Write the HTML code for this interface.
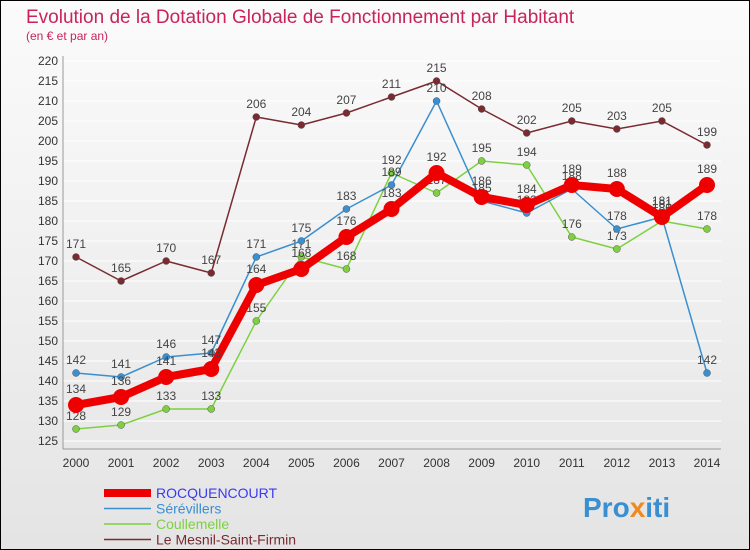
<!DOCTYPE html>
<html><head><meta charset="utf-8"><style>
body{margin:0;}
#wrap{width:748px;height:548px;border:1px solid #000;background:linear-gradient(#fbfbfb,#e4e4e4);position:relative;font-family:"Liberation Sans",sans-serif;overflow:hidden;}
</style></head><body>
<div id="wrap">
<svg id="chart" width="748" height="548" xmlns="http://www.w3.org/2000/svg">
<text x="25" y="22" font-size="19" fill="#c8245a">Evolution de la Dotation Globale de Fonctionnement par Habitant</text>
<text x="25" y="39" font-size="12" fill="#c8245a">(en € et par an)</text>
<g id="axes"></g><g id="series"></g><g id="legend"></g>
<text x="582" y="516" font-size="28" font-weight="bold" fill="#3a8fd0">Pro<tspan fill="#f08a20">x</tspan>iti</text>
</svg>
</div>
<script>
const years=[2000,2001,2002,2003,2004,2005,2006,2007,2008,2009,2010,2011,2012,2013,2014];
const seriesNames=["Le Mesnil-Saint-Firmin","Coullemelle","Sérévillers","ROCQUENCOURT"];
const mesnil=[171,165,170,167,206,204,207,211,215,208,202,205,203,205,199];
const coullemelle=[128,129,133,133,155,171,168,192,187,195,194,176,173,180,178];
const serevillers=[142,141,146,147,171,175,183,189,210,185,182,188,178,181,142];
const rocq=[134,136,141,143,164,168,176,183,192,186,184,189,188,181,189];
const yTicks=[125,130,135,140,145,150,155,160,165,170,175,180,185,190,195,200,205,210,215,220];
const NS="http://www.w3.org/2000/svg";
const X=i=>75+i*(631/14);
const Y=v=>60+(220-v)*4;
function mk(t,a,p){const e=document.createElementNS(NS,t);for(const k in a)e.setAttribute(k,a[k]);p.appendChild(e);return e;}
const ax=document.getElementById('axes');
yTicks.forEach(v=>{
 const g=mk('line',{x1:62,x2:720,y1:Y(v),y2:Y(v),stroke:'#ffffff','stroke-width':1},ax);
 
 
 const t=mk('text',{x:57,y:Y(v)+4,'font-size':12,'text-anchor':'end',fill:'#333'},ax);t.textContent=v;
 
 
});
const ya=mk('line',{x1:62,x2:62,y1:55,y2:448,stroke:'#999'},ax);


const xa=mk('line',{x1:62,x2:720,y1:448,y2:448,stroke:'#999'},ax);


years.forEach((y,i)=>{
 const t=mk('text',{x:X(i),y:466,'font-size':12,'text-anchor':'middle',fill:'#333'},ax);t.textContent=y;
 
 
});
const data=[mesnil,coullemelle,serevillers,rocq];
const colors=["#7a2a30","#7ed040","#3a8fd0","#ee0000"];
const fills=["#7a2a30","#7ed040","#3a8fd0","#ee0000"];
const widths=[1.5,1.5,1.5,8];
const radii=[3.5,3.5,3.5,8];
const sg=document.getElementById('series');
data.forEach((d,s)=>{
 const pts=d.map((v,i)=>X(i)+','+Y(v)).join(' ');
 const l=mk('polyline',{points:pts,fill:'none',stroke:colors[s],'stroke-width':widths[s],'stroke-linejoin':'round'},sg);
 
 
 d.forEach((v,i)=>{
  const c=mk('circle',{cx:X(i),cy:Y(v),r:radii[s],fill:fills[s],stroke:s==3?'none':'#555','stroke-width':0.5},sg);
  
  
  const t=mk('text',{x:X(i),y:Y(v)-(s==3?12:9),'font-size':12,'text-anchor':'middle',fill:'#444'},sg);t.textContent=v;
  
  
 });
});
const lg=document.getElementById('legend');
const order=[3,2,1,0];
const lnames=["ROCQUENCOURT","Sérévillers","Coullemelle","Le Mesnil-Saint-Firmin"];
const lcols=["#3a3aee","#3a8fd0","#7ed040","#7a2a30"];
order.forEach((s,k)=>{
 const y=492+k*15.5;
 const l=mk('line',{x1:103,x2:150,y1:y,y2:y,stroke:colors[s],'stroke-width':s==3?8:1.5},lg);
 
 
 const t=mk('text',{x:155,y:y+5,'font-size':14,fill:lcols[k]},lg);t.textContent=lnames[k];
 
 
});
</script>
</body></html>
